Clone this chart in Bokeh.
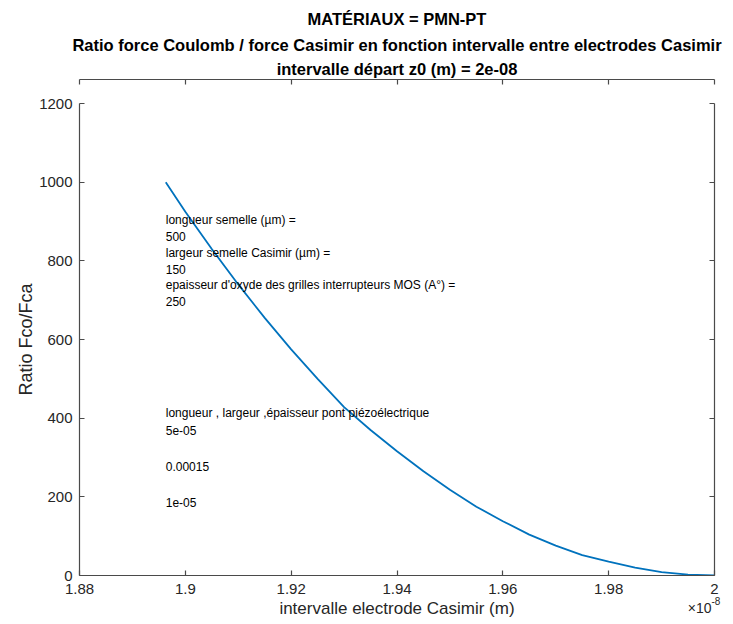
from bokeh.plotting import figure
from bokeh.models import LinearAxis, Title, Label, FixedTicker, Range1d
from bokeh.embed import file_html
from bokeh.resources import INLINE

# ---- data (x in units of 1e-8 m) ----
z = [1.8963, 1.900, 1.905, 1.910, 1.915, 1.920, 1.925, 1.930, 1.935, 1.940,
     1.945, 1.950, 1.955, 1.960, 1.965, 1.970, 1.975, 1.980, 1.985, 1.990,
     1.995, 2.000]
ratio = [1000, 925, 830, 740, 655, 575, 500, 428, 370, 316,
         265, 218, 175, 138, 104, 76, 52, 35, 20, 8.5,
         2.2, 0]

x_ticks = [1.88, 1.9, 1.92, 1.94, 1.96, 1.98, 2.0]
x_tick_labels = ["1.88", "1.9", "1.92", "1.94", "1.96", "1.98", "2"]
y_ticks = [0, 200, 400, 600, 800, 1000, 1200]

title_lines = [
    "MATÉRIAUX = PMN-PT",
    "Ratio force Coulomb / force Casimir en fonction intervalle entre electrodes Casimir",
    "intervalle départ z0 (m) = 2e-08",
]
x_label = "intervalle electrode Casimir (m)"
y_label = "Ratio Fco/Fca"
x_multiplier = "×10"
x_exponent = "-8"

note1_lines = ["longueur semelle (µm) =", "500", "largeur semelle Casimir (µm) =", "150",
               " epaisseur d'oxyde des grilles interrupteurs MOS (A°) =", "250"]
note1_y = 800
note2_lines = [" longueur , largeur ,épaisseur pont piézoélectrique", "5e-05", "", "0.00015", "", "1e-05"]
note2_y = 300

FONT = "Liberation Sans"
AX_COL = "#4a4a4a"
TXT_COL = "#262626"

p = figure(width=725, height=620, output_backend="svg", toolbar_location=None,
           x_range=Range1d(1.88, 2.0), y_range=Range1d(0, 1200), title=None,
           min_border_left=79, min_border_right=11, min_border_top=0, min_border_bottom=41)
p.grid.visible = False
p.outline_line_color = None
p.background_fill_color = "white"

p.line(z, ratio, line_color="#0072BD", line_width=1.8)


def style_axis(ax, show_labels=True):
    ax.axis_line_color = AX_COL
    ax.axis_line_width = 1.2
    ax.major_tick_line_color = AX_COL
    ax.major_tick_line_width = 1.2
    ax.major_tick_in = 5
    ax.major_tick_out = 0
    ax.minor_tick_in = 0
    ax.minor_tick_out = 0
    ax.minor_tick_line_color = None
    ax.major_label_text_font = FONT
    ax.major_label_text_color = TXT_COL if show_labels else None
    ax.major_label_text_font_size = "15px" if show_labels else "1px"
    ax.major_label_standoff = 5 if show_labels else 0
    ax.axis_label_text_font = FONT
    ax.axis_label_text_color = TXT_COL
    ax.axis_label_text_font_style = "normal"


xb = p.xaxis[0]
xb.ticker = FixedTicker(ticks=x_ticks)
xb.major_label_overrides = {t: s for t, s in zip(x_ticks, x_tick_labels)}
style_axis(xb)
xb.major_label_standoff = 8
xb.axis_label = x_label
xb.axis_label_text_font_size = "17px"
xb.axis_label_standoff = 2

yl = p.yaxis[0]
yl.ticker = FixedTicker(ticks=y_ticks)
style_axis(yl)
yl.major_label_standoff = 7
yl.axis_label = y_label
yl.axis_label_text_font_size = "18px"
yl.axis_label_standoff = 0

right = LinearAxis(ticker=FixedTicker(ticks=y_ticks))
style_axis(right, show_labels=False)
p.add_layout(right, "right")

# multiplier label "×10^-8" under the right end of the x axis.
# It lives in a side panel (not clipped by the frame); its position is in data/frame coords.
p.add_layout(Label(x=2.0, y=0, x_offset=-3, y_offset=-32, text=x_multiplier, text_align="right",
                   text_baseline="middle", text_font=FONT, text_font_size="14px",
                   text_color=TXT_COL), "above")
p.add_layout(Label(x=2.0, y=0, x_offset=-3, y_offset=-25, text=x_exponent, text_align="left",
                   text_baseline="middle", text_font=FONT, text_font_size="10px",
                   text_color=TXT_COL), "above")

top = LinearAxis(ticker=FixedTicker(ticks=x_ticks))
style_axis(top, show_labels=False)
top.major_label_standoff = 3
p.add_layout(top, "above")

# titles (stacked from frame outward: line 3, line 2, line 1)
title_specs = [(title_lines[0], "bottom", 15), (title_lines[1], "top", 0), (title_lines[2], "bottom", 4)]
for t, va, so in reversed(title_specs):
    p.add_layout(Title(text=t, align="center", vertical_align=va, text_font=FONT,
                       text_font_size="16.5px", text_font_style="bold", text_color="black",
                       standoff=so), "above")

# annotation blocks
step1 = 16.4
for i, t in enumerate(note1_lines):
    off = (len(note1_lines) - 1) / 2 * step1 - i * step1
    p.add_layout(Label(x=z[0], y=note1_y, y_offset=off, text=t, text_baseline="middle",
                       text_font=FONT, text_font_size="12px", text_color="black"))
step2 = 18
for i, t in enumerate(note2_lines):
    if not t:
        continue
    off = (len(note2_lines) - 1) / 2 * step2 - i * step2
    p.add_layout(Label(x=z[0], y=note2_y, y_offset=off, text=t, text_baseline="middle",
                       text_font=FONT, text_font_size="12px", text_color="black"))

open("out.html", "w").write(file_html(p, INLINE))
